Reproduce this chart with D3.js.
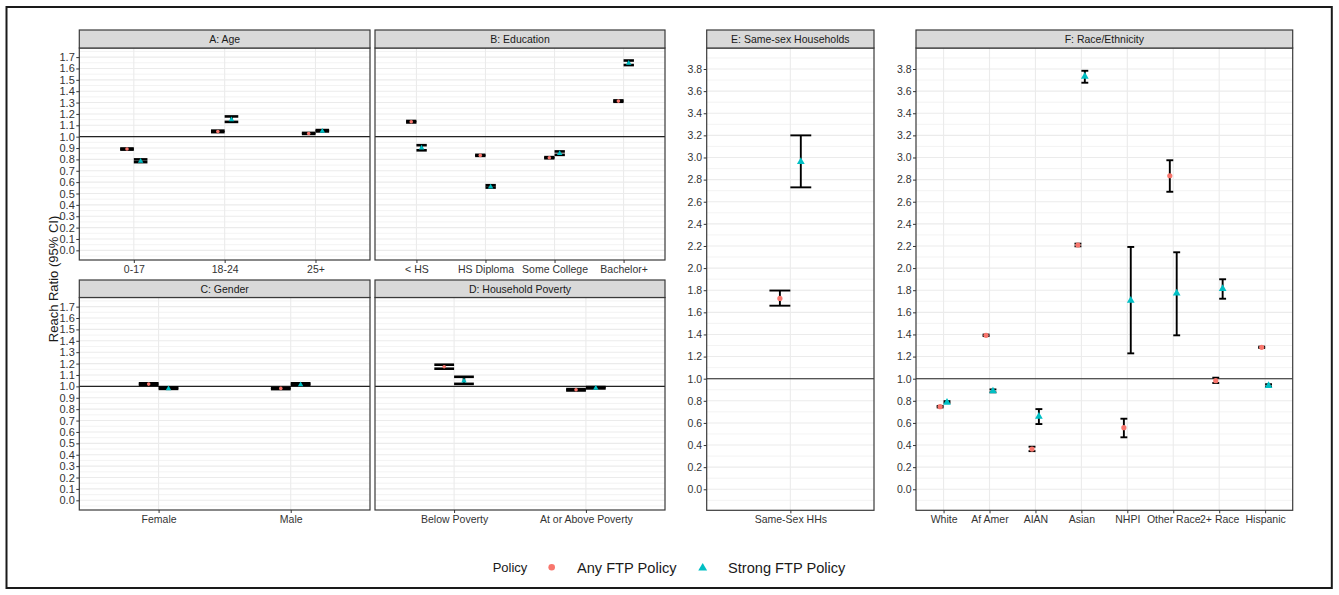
<!DOCTYPE html>
<html><head><meta charset="utf-8">
<script src="https://cdn.jsdelivr.net/npm/d3@7"></script>
<style>
body{margin:0;background:#fff;}
svg{display:block;font-family:"Liberation Sans",Arial,Helvetica,sans-serif;}
</style>
</head><body>
<svg id="c" width="1339" height="595"></svg>
<script>
// ---------------- DATA ([estimate, lower CI, upper CI]) ----------------
const ageCats = ["0-17", "18-24", "25+"];
const ageAny    = [[0.891, 0.886, 0.896], [1.046, 1.040, 1.053], [1.028, 1.024, 1.033]];
const ageStrong = [[0.788, 0.776, 0.800], [1.155, 1.130, 1.178], [1.052, 1.046, 1.058]];

const eduCats = ["< HS", "HS Diploma", "Some College", "Bachelor+"];
const eduAny    = [[1.131, 1.125, 1.138], [0.835, 0.831, 0.840], [0.815, 0.810, 0.820], [1.313, 1.307, 1.319]];
const eduStrong = [[0.905, 0.880, 0.925], [0.562, 0.552, 0.573], [0.856, 0.840, 0.870], [1.652, 1.630, 1.670]];

const genCats = ["Female", "Male"];
const genAny    = [[1.020, 1.013, 1.027], [0.982, 0.976, 0.988]];
const genStrong = [[0.985, 0.978, 0.992], [1.020, 1.013, 1.027]];

const povCats = ["Below Poverty", "At or Above Poverty"];
const povAny    = [[1.172, 1.155, 1.190], [0.970, 0.964, 0.976]];
const povStrong = [[1.052, 1.022, 1.084], [0.988, 0.982, 0.994]];

const ssCats = ["Same-Sex HHs"];
const ssAny    = [[1.726, 1.660, 1.797]];
const ssStrong = [[2.967, 2.730, 3.200]];

const raceCats = ["White", "Af Amer", "AIAN", "Asian", "NHPI", "Other Race", "2+ Race", "Hispanic"];
const raceAny    = [[0.747, 0.740, 0.754], [1.392, 1.385, 1.399], [0.364, 0.345, 0.385], [2.209, 2.197, 2.221],
                    [0.557, 0.470, 0.638], [2.835, 2.690, 2.975], [0.982, 0.961, 1.009], [1.284, 1.278, 1.290]];
const raceStrong = [[0.789, 0.781, 0.797], [0.892, 0.877, 0.903], [0.663, 0.590, 0.725], [3.737, 3.676, 3.784],
                    [1.711, 1.229, 2.191], [1.778, 1.392, 2.143], [1.817, 1.723, 1.899], [0.940, 0.930, 0.950]];

const ticksSmall  = [0.0, 0.1, 0.2, 0.3, 0.4, 0.5, 0.6, 0.7, 0.8, 0.9, 1.0, 1.1, 1.2, 1.3, 1.4, 1.5, 1.6, 1.7];
const ticksLarge  = [0.0, 0.2, 0.4, 0.6, 0.8, 1.0, 1.2, 1.4, 1.6, 1.8, 2.0, 2.2, 2.4, 2.6, 2.8, 3.0, 3.2, 3.4, 3.6, 3.8];
const minorSmall  = [-0.05, 0.05, 0.15, 0.25, 0.35, 0.45, 0.55, 0.65, 0.75, 0.85, 0.95, 1.05, 1.15, 1.25, 1.35, 1.45, 1.55, 1.65, 1.75];
const minorLarge  = [-0.1, 0.1, 0.3, 0.5, 0.7, 0.9, 1.1, 1.3, 1.5, 1.7, 1.9, 2.1, 2.3, 2.5, 2.7, 2.9, 3.1, 3.3, 3.5, 3.7, 3.9];

const seriesNames = ["Any FTP Policy", "Strong FTP Policy"];
const legendTitle = "Policy";
const yTitle = "Reach Ratio (95% CI)";

// ---------------- LAYOUT ----------------
const colAny = "#F8766D", colStrong = "#00BFC4";
const small = { domain: [-0.085, 1.78], ticks: ticksSmall, minor: minorSmall, ebw: 2.6, pr: 1.8, tri: 13, fsY: 11 };
const large = { domain: [-0.19, 3.99], ticks: ticksLarge, minor: minorLarge, ebw: 1.9, pr: 2.6, tri: 26, fsY: 10.5 };

const panels = [
  { title: "A: Age", cats: ageCats, any: ageAny, strong: ageStrong, x0: 79.3, x1: 370, st: 30, y0: 48, y1: 260, s: small, yLab: true },
  { title: "B: Education", cats: eduCats, any: eduAny, strong: eduStrong, x0: 375, x1: 665, st: 30, y0: 48, y1: 260, s: small, yLab: false },
  { title: "C: Gender", cats: genCats, any: genAny, strong: genStrong, x0: 79.3, x1: 370, st: 280, y0: 297.5, y1: 510, s: small, yLab: true },
  { title: "D: Household Poverty", cats: povCats, any: povAny, strong: povStrong, x0: 375, x1: 665, st: 280, y0: 297.5, y1: 510, s: small, yLab: false },
  { title: "E: Same-sex Households", cats: ssCats, any: ssAny, strong: ssStrong, x0: 706.7, x1: 874, st: 30, y0: 48, y1: 510.3, s: large, yLab: true },
  { title: "F: Race/Ethnicity", cats: raceCats, any: raceAny, strong: raceStrong, x0: 916, x1: 1292.7, st: 30, y0: 48, y1: 510.3, s: large, yLab: true }
];

const svg = d3.select("#c");
svg.append("rect").attr("width", 1339).attr("height", 595).attr("fill", "#fff");
svg.append("rect").attr("x", 6.5).attr("y", 7).attr("width", 1325.3).attr("height", 581)
  .attr("fill", "none").attr("stroke", "#1a1a1a").attr("stroke-width", 2);

panels.forEach(p => {
  const s = p.s;
  const x = d3.scalePoint().domain(p.cats).range([p.x0, p.x1]).padding(0.6);
  const y = d3.scaleLinear().domain(s.domain).range([p.y1, p.y0]);
  const off = x.step() * 0.075;
  const g = svg.append("g");

  g.append("rect").attr("x", p.x0).attr("y", p.y0).attr("width", p.x1 - p.x0).attr("height", p.y1 - p.y0).attr("fill", "#fff");

  g.selectAll(".mn").data(s.minor).join("line")
    .attr("x1", p.x0).attr("x2", p.x1).attr("y1", d => y(d)).attr("y2", d => y(d))
    .attr("stroke", "#EEEEEE").attr("stroke-width", 0.7);
  g.selectAll(".mj").data(s.ticks).join("line")
    .attr("x1", p.x0).attr("x2", p.x1).attr("y1", d => y(d)).attr("y2", d => y(d))
    .attr("stroke", "#EBEBEB").attr("stroke-width", 1.1);
  g.selectAll(".vg").data(p.cats).join("line")
    .attr("x1", d => x(d)).attr("x2", d => x(d)).attr("y1", p.y0).attr("y2", p.y1)
    .attr("stroke", "#EBEBEB").attr("stroke-width", 1.1);

  g.append("line").attr("x1", p.x0).attr("x2", p.x1).attr("y1", y(1)).attr("y2", y(1))
    .attr("stroke", "#222").attr("stroke-width", 1.1);

  const rows = [];
  p.cats.forEach((c, i) => {
    rows.push({ c, k: 0, v: p.any[i] });
    rows.push({ c, k: 1, v: p.strong[i] });
  });
  const cx = d => x(d.c) + (d.k === 0 ? -off : off);

  const eb = g.selectAll(".eb").data(rows).join("g");
  eb.append("line").attr("x1", cx).attr("x2", cx).attr("y1", d => y(d.v[1])).attr("y2", d => y(d.v[2]))
    .attr("stroke", "#000").attr("stroke-width", s.ebw);
  eb.append("line").attr("x1", d => cx(d) - off).attr("x2", d => cx(d) + off)
    .attr("y1", d => y(d.v[1])).attr("y2", d => y(d.v[1])).attr("stroke", "#000").attr("stroke-width", s.ebw);
  eb.append("line").attr("x1", d => cx(d) - off).attr("x2", d => cx(d) + off)
    .attr("y1", d => y(d.v[2])).attr("y2", d => y(d.v[2])).attr("stroke", "#000").attr("stroke-width", s.ebw);

  g.selectAll(".pa").data(rows.filter(d => d.k === 0)).join("circle")
    .attr("cx", cx).attr("cy", d => y(d.v[0])).attr("r", s.pr).attr("fill", colAny);
  g.selectAll(".ps").data(rows.filter(d => d.k === 1)).join("path")
    .attr("d", d3.symbol(d3.symbolTriangle, s.tri))
    .attr("transform", d => `translate(${cx(d)},${y(d.v[0]) + 0.5})`).attr("fill", colStrong);

  g.append("rect").attr("x", p.x0).attr("y", p.y0).attr("width", p.x1 - p.x0).attr("height", p.y1 - p.y0)
    .attr("fill", "none").attr("stroke", "#3a3a3a").attr("stroke-width", 1.2);
  g.append("rect").attr("x", p.x0).attr("y", p.st).attr("width", p.x1 - p.x0).attr("height", p.y0 - p.st)
    .attr("fill", "#D9D9D9").attr("stroke", "#3a3a3a").attr("stroke-width", 1.2);
  g.append("text").attr("x", (p.x0 + p.x1) / 2).attr("y", (p.st + p.y0) / 2 + 3.8)
    .attr("text-anchor", "middle").attr("font-size", 10.5).attr("fill", "#1a1a1a").text(p.title);

  // x axis
  const xa = g.append("g").attr("transform", `translate(0,${p.y1})`)
    .call(d3.axisBottom(x).tickSize(3).tickPadding(2.5));
  xa.select(".domain").remove();
  xa.selectAll(".tick line").attr("stroke", "#333").attr("stroke-width", 1);
  xa.selectAll(".tick text").attr("font-size", 10.5).attr("fill", "#333").attr("font-family", null);

  if (p.yLab) {
    const ya = g.append("g").attr("transform", `translate(${p.x0},0)`)
      .call(d3.axisLeft(y).tickValues(s.ticks).tickFormat(d3.format(".1f")).tickSize(3).tickPadding(1.5));
    ya.select(".domain").remove();
    ya.selectAll(".tick line").attr("stroke", "#333").attr("stroke-width", 1);
    ya.selectAll(".tick text").attr("font-size", s.fsY).attr("fill", "#333").attr("font-family", null);
  }
});

// y title
svg.append("text").attr("transform", "translate(58,279) rotate(-90)")
  .attr("text-anchor", "middle").attr("font-size", 13).attr("fill", "#1a1a1a").text(yTitle);

// legend
const lg = svg.append("g");
lg.append("text").attr("x", 492.7).attr("y", 572).attr("font-size", 13).attr("fill", "#1a1a1a").text(legendTitle);
lg.append("circle").attr("cx", 551.7).attr("cy", 567.3).attr("r", 3.3).attr("fill", colAny);
lg.append("text").attr("x", 577).attr("y", 573).attr("font-size", 14.6).attr("fill", "#1a1a1a").text(seriesNames[0]);
lg.append("path").attr("d", d3.symbol(d3.symbolTriangle, 34)).attr("transform", "translate(702.7,568)").attr("fill", colStrong);
lg.append("text").attr("x", 728).attr("y", 573).attr("font-size", 14.6).attr("fill", "#1a1a1a").text(seriesNames[1]);
</script>
</body></html>
